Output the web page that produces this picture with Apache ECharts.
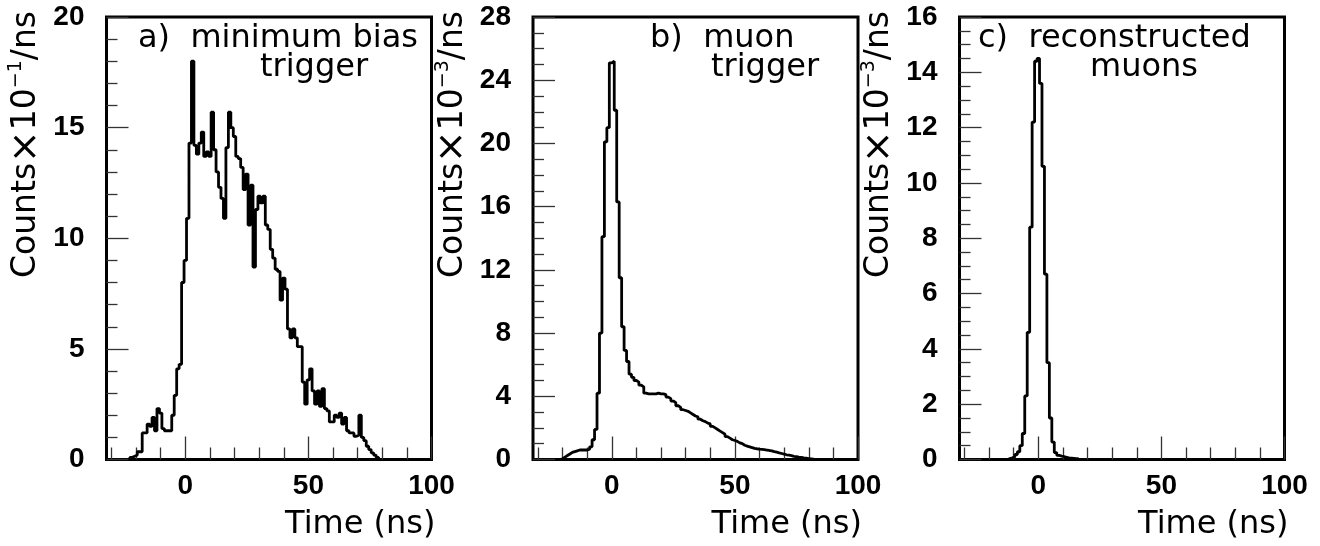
<!DOCTYPE html>
<html>
<head>
<meta charset="utf-8">
<script src="https://cdn.jsdelivr.net/npm/echarts@6/dist/echarts.min.js"></script>
<style>
  html, body { margin: 0; padding: 0; background: #fff; }
  #chart { width: 1320px; height: 546px; }
</style>
</head>
<body>
<div id="chart"></div>
<script>
// tick positions on the time axis (ns)
const xMajorTicks = [0, 50, 100];
const xMinorTicks = [-30, -20, -10, 10, 20, 30, 40, 60, 70, 80, 90];

// a) minimum bias trigger, 1 ns bins, first bin starts at edgeA (counts x 10^-1 / ns)
const edgeA = -22.5;
const countsA = [
  0.1, 0.15, 0.2, 0.35, 0.35, 1.2, 1.2, 1.6, 1.5, 1.9,
  1.3, 2.3, 2.1, 1.4, 1.3, 1.3, 1.3, 2.0, 2.9, 4.1,
  4.3, 8.0, 9.0, 10.9, 14.3, 18.0, 14.2, 13.8, 14.3, 14.8,
  13.7, 13.9, 13.7, 15.7, 14.0, 13.0, 12.3, 11.8, 10.9, 14.1,
  15.7, 15.0, 14.6, 13.7, 13.6, 13.2, 12.2, 12.9, 10.6, 12.4,
  8.7, 11.3, 11.9, 11.6, 11.9, 10.6, 10.4, 9.5, 9.1, 8.6,
  8.5, 7.2, 8.2, 7.7, 5.9, 5.5, 5.9, 5.5, 5.1, 5.1,
  3.5, 2.5, 3.6, 4.1, 3.1, 2.5, 3.1, 2.4, 3.2, 2.3,
  2.2, 1.7, 1.7, 2.0, 1.9, 2.1, 1.6, 1.9, 1.3, 1.2,
  1.2, 1.05, 1.1, 2.0, 1.0, 0.85, 0.6, 0.45, 0.3, 0.2,
  0.1
];

// b) muon trigger (counts x 10^-3 / ns)
const edgeB = -21;
const countsB = [
  0.05, 0.15, 0.25, 0.35, 0.45, 0.5, 0.55, 0.6, 0.6, 0.6,
  0.6, 0.65, 0.8, 1.25, 1.9, 4.2, 8.0, 14.1, 20.1, 21.0,
  25.1, 25.2, 22.1, 16.3, 11.5, 8.4, 6.9, 6.2, 5.4, 5.2,
  5.0, 4.9, 4.7, 4.6, 4.2, 4.15, 4.15, 4.15, 4.15, 4.2,
  4.15, 4.15, 4.1, 3.95, 3.85, 3.7, 3.6, 3.4, 3.3, 3.15,
  3.1, 3.05, 2.95, 2.85, 2.75, 2.7, 2.55, 2.45, 2.4, 2.3,
  2.25, 2.1, 2.0, 1.9, 1.8, 1.7, 1.6, 1.45, 1.35, 1.25,
  1.2, 1.15, 1.05, 1.0, 0.9, 0.85, 0.8, 0.75, 0.7, 0.68,
  0.65, 0.64, 0.62, 0.6, 0.57, 0.55, 0.5, 0.47, 0.42, 0.38,
  0.34, 0.3, 0.27, 0.24, 0.2, 0.18, 0.15, 0.13, 0.1, 0.08,
  0.06, 0.04, 0.02
];

// c) reconstructed muons (counts x 10^-3 / ns)
const edgeC = -12.5;
const countsC = [
  0.03, 0.06, 0.1, 0.18, 0.28, 0.5, 0.94, 2.3, 4.6, 8.4,
  12.2, 14.4, 14.5, 13.6, 10.6, 6.7, 3.5, 1.5, 0.63, 0.25,
  0.15, 0.12, 0.1, 0.08, 0.06, 0.05, 0.04, 0.03, 0.02
];

const yMaxA = 20, yStepA = 5, yMinorA = 5;
const yMaxB = 28, yStepB = 4, yMinorB = 4;
const yMaxC = 16, yStepC = 2, yMinorC = 4;

const titleA = ['a)  minimum bias', 'trigger'];
const titleB = ['b)  muon', 'trigger'];
const titleC = ['c)  reconstructed', 'muons'];
const expA = '−1', expB = '−3', expC = '−3';
const xName = 'Time (ns)';

// layout
const frameLeft = [106.5, 533, 959.5];
const frameTop = 17, frameW = 325, frameH = 442.5;
const title1Left = [138, 650, 978];
const title2Left = [260, 711, 1090];

const panels = [
  { edge: edgeA, counts: countsA, yMax: yMaxA, yStep: yStepA, yMinor: yMinorA, title: titleA, exp: expA },
  { edge: edgeB, counts: countsB, yMax: yMaxB, yStep: yStepB, yMinor: yMinorB, title: titleB, exp: expB },
  { edge: edgeC, counts: countsC, yMax: yMaxC, yStep: yStepC, yMinor: yMinorC, title: titleC, exp: expC }
];

function histPoints(edge, counts) {
  const pts = [[edge, 0]];
  counts.forEach((v, i) => pts.push([edge + i, v]));
  pts.push([edge + counts.length, 0]);
  return pts;
}

const labelFont = { fontFamily: 'Liberation Sans', fontWeight: 'bold', fontSize: 28, color: '#000' };
const textFont = 'DejaVu Sans';
const tickStyle = { color: '#333', width: 1.3 };

const grid = [], xAxis = [], yAxis = [], series = [], graphic = [];

panels.forEach((p, i) => {
  grid.push({
    left: frameLeft[i], top: frameTop, width: frameW, height: frameH,
    show: true, borderColor: '#000', borderWidth: 3, backgroundColor: 'transparent'
  });
  // major ticks + labels
  xAxis.push({
    gridIndex: i, type: 'value', position: 'bottom', min: -32, max: 100,
    axisLine: { show: false, onZero: false },
    axisTick: { show: true, inside: true, length: 23, customValues: xMajorTicks, lineStyle: tickStyle },
    axisLabel: { show: true, margin: 13, customValues: xMajorTicks, ...labelFont },
    splitLine: { show: false }
  });
  // minor ticks
  xAxis.push({
    gridIndex: i, type: 'value', position: 'bottom', min: -32, max: 100,
    axisLine: { show: false, onZero: false },
    axisTick: { show: true, inside: true, length: 12, customValues: xMinorTicks, lineStyle: tickStyle },
    axisLabel: { show: false },
    splitLine: { show: false }
  });
  yAxis.push({
    gridIndex: i, type: 'value', position: 'left', min: 0, max: p.yMax, interval: p.yStep,
    axisLine: { show: false, onZero: false },
    axisTick: { show: true, inside: true, length: 22, lineStyle: tickStyle },
    minorTick: { show: true, splitNumber: p.yMinor, length: 11, lineStyle: tickStyle },
    axisLabel: { margin: 22, ...labelFont },
    splitLine: { show: false }
  });
  series.push({
    type: 'line', xAxisIndex: 2 * i, yAxisIndex: i,
    step: 'end', symbol: 'none', silent: true,
    lineStyle: { color: '#000', width: 2.8 },
    data: histPoints(p.edge, p.counts)
  });

  const right = frameLeft[i] + frameW;
  graphic.push(
    { type: 'text', x: title1Left[i], y: 39,
      style: { text: p.title[0], fontFamily: textFont, fontSize: 32, fill: '#000', align: 'left', verticalAlign: 'middle' } },
    { type: 'text', x: title2Left[i], y: 68,
      style: { text: p.title[1], fontFamily: textFont, fontSize: 32, fill: '#000', align: 'left', verticalAlign: 'middle' } },
    { type: 'text', x: right + 4, y: 525,
      style: { text: xName, fontFamily: textFont, fontSize: 32, fill: '#000', align: 'right', verticalAlign: 'middle' } },
    { type: 'text', x: frameLeft[i] - 80, y: 11, rotation: Math.PI / 2,
      style: {
        text: 'Counts{x|×}10{s|' + p.exp + '}/ns',
        fontFamily: textFont, fontSize: 33, fill: '#000', align: 'right', verticalAlign: 'middle',
        rich: {
          x: { fontFamily: textFont, fontSize: 39, fill: '#000' },
          s: { fontFamily: textFont, fontSize: 19, fill: '#000', verticalAlign: 'top' }
        }
      } }
  );
});

const chart = echarts.init(document.getElementById('chart'));
chart.setOption({
  animation: false,
  backgroundColor: '#fff',
  grid, xAxis, yAxis, series, graphic
});
</script>
</body>
</html>
